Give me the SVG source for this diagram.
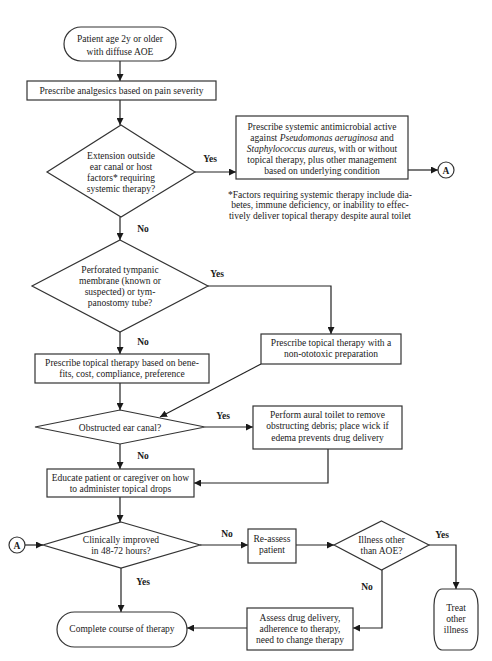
<svg xmlns="http://www.w3.org/2000/svg" width="492" height="661" viewBox="0 0 492 661">
<defs>
<marker id="ah" viewBox="0 0 10 10" refX="10" refY="5" markerWidth="7" markerHeight="7" markerUnits="userSpaceOnUse" orient="auto">
<path d="M0,0 L10,5 L0,10 z" fill="#1a1a1a"/>
</marker>
<style>
.s{fill:#fff;stroke:#333;stroke-width:1.2}
.t{font-family:"Liberation Serif","Times New Roman",serif;font-size:9.5px;fill:#1a1a1a;text-anchor:middle}
.l{font-family:"Liberation Serif","Times New Roman",serif;font-size:9.5px;font-weight:bold;fill:#1a1a1a;text-anchor:middle}
.c{fill:none;stroke:#222;stroke-width:1.2}
.a{marker-end:url(#ah)}
</style>
</defs>
<rect width="492" height="661" fill="#fff"/>
<g id="connectors">
<path class="c a" d="M120,61 V81"/>
<path class="c a" d="M120,100 V125"/>
<path class="c a" d="M195,172 H236"/>
<path class="c a" d="M408,170 H438"/>
<path class="c a" d="M120,217 V240"/>
<path class="c a" d="M208,286 H331 V334"/>
<path class="c a" d="M120,332 V354"/>
<path class="c a" d="M261,364 L160,417"/>
<path class="c a" d="M120,383 V410"/>
<path class="c a" d="M205,427 H253"/>
<path class="c a" d="M328,449 V483 H194"/>
<path class="c a" d="M120,444 V469"/>
<path class="c a" d="M120,497 V522"/>
<path class="c a" d="M25,545 H43"/>
<path class="c a" d="M200,545 H248"/>
<path class="c a" d="M296,545 H334"/>
<path class="c a" d="M429,545 H456 V589"/>
<path class="c a" d="M382,570 V628 H353"/>
<path class="c a" d="M247,628 H187"/>
<path class="c a" d="M121,568 V612"/>
<text class="l" x="210" y="161.5">Yes</text>
<text class="l" x="143" y="231.5">No</text>
<text class="l" x="217" y="276.5">Yes</text>
<text class="l" x="143" y="344.5">No</text>
<text class="l" x="223" y="418.5">Yes</text>
<text class="l" x="143" y="458.5">No</text>
<text class="l" x="227" y="536.5">No</text>
<text class="l" x="442" y="537.5">Yes</text>
<text class="l" x="367" y="589.5">No</text>
<text class="l" x="143" y="584.5">Yes</text>
</g>
<g id="start">
<rect class="s" x="64" y="27" width="112" height="34" rx="17"/>
<text class="t" x="120" y="41.5">Patient age 2y or older</text>
<text class="t" x="120" y="54.5">with diffuse AOE</text>
</g>
<g id="analgesics">
<rect class="s" x="27" y="81" width="189" height="19"/>
<text class="t" x="121.5" y="94">Prescribe analgesics based on pain severity</text>
</g>
<g id="extension">
<path class="s" d="M121,125 L195,172 L121,217 L47,172 Z"/>
<text class="t" x="121" y="158.5">Extension outside</text>
<text class="t" x="121" y="169.5">ear canal or host</text>
<text class="t" x="121" y="180.5">factors* requiring</text>
<text class="t" x="121" y="191.5">systemic therapy?</text>
</g>
<g id="systemic">
<rect class="s" x="236" y="116" width="172" height="63"/>
<text class="t" x="322" y="129.5">Prescribe systemic antimicrobial active</text>
<text class="t" x="322" y="140.5">against <tspan font-style="italic">Pseudomonas aeruginosa</tspan> and</text>
<text class="t" x="322" y="151.5"><tspan font-style="italic">Staphylococcus aureus</tspan>, with or without</text>
<text class="t" x="322" y="162.5">topical therapy, plus other management</text>
<text class="t" x="322" y="173.5">based on underlying condition</text>
</g>
<g id="connectorA-right">
<circle class="s" cx="446" cy="170" r="8"/>
<text class="l" x="446" y="173.5">A</text>
</g>
<g id="footnote">
<text class="t" x="320" y="197.5">*Factors requiring systemic therapy include dia-</text>
<text class="t" x="320" y="208">betes, immune deficiency, or inability to effec-</text>
<text class="t" x="320" y="218.5">tively deliver topical therapy despite aural toilet</text>
</g>
<g id="perforated">
<path class="s" d="M120,240 L208,286 L120,332 L32,286 Z"/>
<text class="t" x="120" y="272.5">Perforated tympanic</text>
<text class="t" x="120" y="283.5">membrane (known or</text>
<text class="t" x="120" y="294.5">suspected) or tym-</text>
<text class="t" x="120" y="305.5">panostomy tube?</text>
</g>
<g id="nonototoxic">
<rect class="s" x="261" y="334" width="140" height="30"/>
<text class="t" x="331" y="345.5">Prescribe topical therapy with a</text>
<text class="t" x="331" y="356.5">non-ototoxic preparation</text>
</g>
<g id="topical">
<rect class="s" x="35" y="354" width="174" height="29"/>
<text class="t" x="122" y="365.5">Prescribe topical therapy based on bene-</text>
<text class="t" x="122" y="376.5">fits, cost, compliance, preference</text>
</g>
<g id="obstructed">
<path class="s" d="M120,410 L205,427 L120,444 L35,427 Z"/>
<text class="t" x="120" y="430.5">Obstructed ear canal?</text>
</g>
<g id="aural">
<rect class="s" x="253" y="406" width="149" height="43"/>
<text class="t" x="327.5" y="417.5">Perform aural toilet to remove</text>
<text class="t" x="327.5" y="429">obstructing debris; place wick if</text>
<text class="t" x="327.5" y="440.5">edema prevents drug delivery</text>
</g>
<g id="educate">
<rect class="s" x="47" y="469" width="147" height="28"/>
<text class="t" x="120.5" y="480.5">Educate patient or caregiver on how</text>
<text class="t" x="120.5" y="491.5">to administer topical drops</text>
</g>
<g id="connectorA-left">
<circle class="s" cx="17" cy="545" r="8"/>
<text class="l" x="17" y="548.5">A</text>
</g>
<g id="improved">
<path class="s" d="M121,522 L200,545 L121,568 L43,545 Z"/>
<text class="t" x="121" y="542.5">Clinically improved</text>
<text class="t" x="121" y="553.5">in 48-72 hours?</text>
</g>
<g id="reassess">
<rect class="s" x="248" y="529" width="48" height="34"/>
<text class="t" x="272" y="541.5">Re-assess</text>
<text class="t" x="272" y="552.5">patient</text>
</g>
<g id="illness">
<path class="s" d="M381.5,521 L429,545 L381.5,570 L334,545 Z"/>
<text class="t" x="381.5" y="542.5">Illness other</text>
<text class="t" x="381.5" y="553.5">than AOE?</text>
</g>
<g id="treat">
<rect class="s" x="434" y="589" width="44" height="61" rx="8" ry="16"/>
<text class="t" x="456" y="610.5">Treat</text>
<text class="t" x="456" y="621.5">other</text>
<text class="t" x="456" y="632.5">illness</text>
</g>
<g id="assess">
<rect class="s" x="247" y="608" width="106" height="42"/>
<text class="t" x="300" y="620.5">Assess drug delivery,</text>
<text class="t" x="300" y="631.5">adherence to therapy,</text>
<text class="t" x="300" y="642.5">need to change therapy</text>
</g>
<g id="complete">
<rect class="s" x="57" y="612" width="130" height="35" rx="17.5"/>
<text class="t" x="122" y="631.5">Complete course of therapy</text>
</g>
</svg>
